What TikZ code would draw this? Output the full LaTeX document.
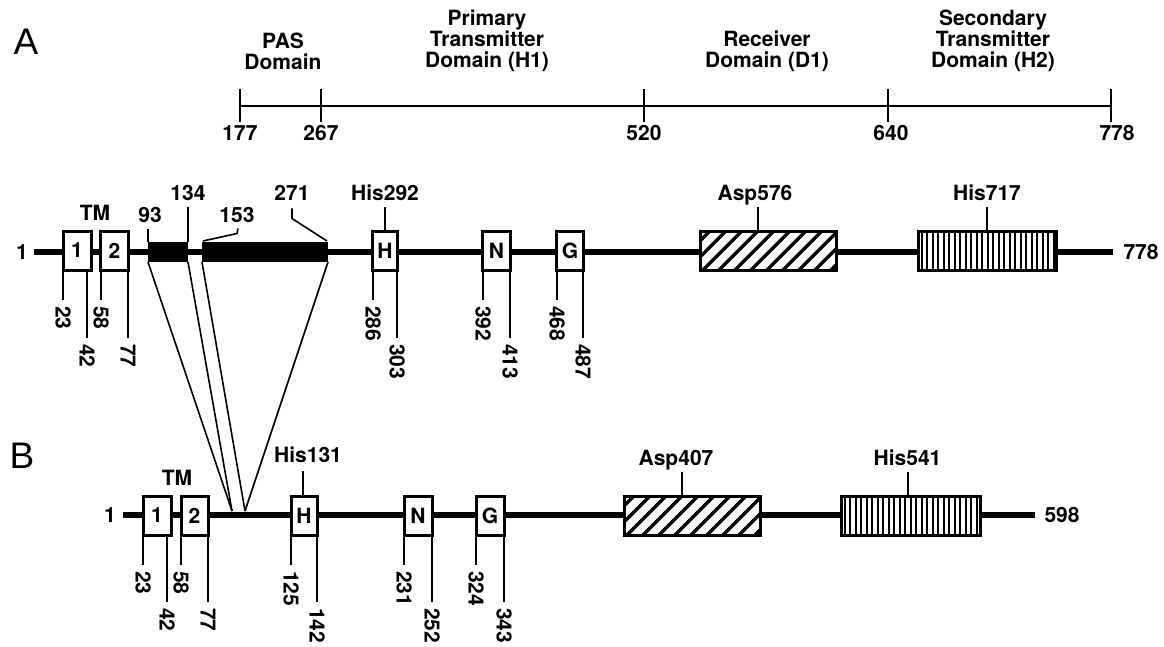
\documentclass[tikz,border=0pt]{standalone}
\usepackage{fontspec}
\setmainfont{TeX Gyre Heros}
\newfontfamily\panelfont{Liberation Sans}
\usetikzlibrary{calc}
\begin{document}
\begin{tikzpicture}[x=1pt,y=-1pt,
  lbl/.style={font=\bfseries\fontsize{21}{21}\selectfont, inner sep=0pt, outer sep=0pt, align=center},
  one/.style={lbl, text height=15pt, text depth=0pt},
  num/.style={one, rotate=-90, anchor=west},
  panel/.style={font=\panelfont\fontsize{37}{40}\selectfont, inner sep=0pt},
  prot/.style={line width=5.5pt},
  tick/.style={line width=1.6pt},
  scaleln/.style={line width=2pt},
  sbox/.style={draw, line width=3pt, fill=white, inner sep=0pt, outer sep=0pt, minimum height=39pt, font=\bfseries\fontsize{21}{21}\selectfont},
  blk/.style={fill=black, inner sep=0pt, outer sep=0pt, minimum height=20pt},
  conn/.style={line width=1.6pt},
  hatch/.style={line width=3.5pt},
  vline/.style={line width=2pt},
  frame/.style={line width=3pt},
]
\useasboundingbox[fill=white] (0,0) rectangle (1164,647);

% panel letters
\node[panel] (pA) at (26,42) {A};
\node[panel] (pB) at (22,456) {B};

% domain scale
\coordinate (s177) at (240,106);
\coordinate (s267) at (321,106);
\coordinate (s520) at (644,106);
\coordinate (s640) at (888,106);
\coordinate (s778) at (1111,106);
\draw[scaleln] (s177) -- (s778);
\foreach \n in {177,267,520,640,778}{
  \draw[scaleln] ($(s\n)+(0,-17)$) -- ($(s\n)+(0,16)$);
}
\node[one] (v177) at (240,133) {177};
\node[one] (v267) at (321,133) {267};
\node[one] (v520) at (644,133) {520};
\node[one] (v640) at (891,133) {640};
\node[one] (v778) at (1117,133) {778};
\node[lbl] (dPAS) at (283,51) {PAS\\Domain};
\node[lbl] (dH1) at (487,41) {Primary\\Transmitter\\Domain (H1)};
\node[lbl] (dD1) at (767,51) {Receiver\\Domain (D1)};
\node[lbl] (dH2) at (993,41) {Secondary\\Transmitter\\Domain (H2)};

% ---------------- protein A ----------------
\node[one] (oneA) at (22,252) {1};
\node[one] (endA) at (1141,252) {778};
\draw[prot] ($(oneA.east)+(6,0)$) -- ($(endA.west)+(-11,0)$);

\node[blk, minimum width=40pt] (k1) at (168,252) {};
\node[blk, minimum width=126pt] (k2) at (265,252) {};

\node[sbox, minimum width=28pt] (tm1A) at (77,250.5) {1};
\node[sbox, minimum width=28pt] (tm2A) at (114.5,250.5) {2};
\node[sbox, minimum width=25pt] (hA) at (385,250.5) {H};
\node[sbox, minimum width=28pt] (nA) at (496.5,250.5) {N};
\node[sbox, minimum width=27pt] (gA) at (570,250.5) {G};
\node[sbox, minimum width=136pt] (aspA) at (768.5,250.5) {};
\node[sbox, minimum width=138pt] (h2A) at (987.5,250.5) {};

\begin{scope}
  \clip (aspA.south west) rectangle (aspA.north east);
  \foreach \k in {0,...,11} \draw[hatch] (665+\k*16,276) -- (715+\k*16,226);
\end{scope}
\draw[frame] (aspA.south west) rectangle (aspA.north east);
\begin{scope}
  \clip (h2A.south west) rectangle (h2A.north east);
  \foreach \k in {0,...,24} \draw[vline] (921.5+\k*5.5,226) -- (921.5+\k*5.5,276);
\end{scope}
\draw[frame] (h2A.south west) rectangle (h2A.north east);

\node[one] (tmA) at (95,213) {TM};
\node[one] (l93) at (150,215) {93};
\node[one] (l134) at (188,193) {134};
\node[one] (l153) at (237,215) {153};
\node[one] (l271) at (292,193) {271};
\draw[tick] (k1.north west) -- ($(k1.north west |- l93.south)+(0,6)$);
\draw[tick] (k1.north east) -- ($(k1.north east |- l134.south)+(0,7)$);
\draw[tick] ($(l153.south)+(1,6)$) -- ++(-1,5) -- ($(k2.north west)+(1,-1)$);
\draw[tick] ($(l271.south)+(0,8)$) -- ++(0,10) -- ($(k2.north east)+(-1,-1)$);

\node[one] (lHisA) at (385,193) {His292};
\draw[tick] ($(lHisA.south)+(0,7)$) -- (hA.north);
\node[one] (lAspA) at (755,193) {Asp576};
\coordinate (tAspA) at ($(lAspA.south)+(3,7)$);
\draw[tick] (tAspA) -- (tAspA |- aspA.north);
\node[one] (lH2A) at (987,193) {His717};
\coordinate (tH2A) at ($(lH2A.south)+(0,7)$);
\draw[tick] (tH2A) -- (tH2A |- h2A.north);

\foreach \x/\ye/\t in {63/300/23, 87/338/42, 101/300/58, 128/338/77, 373/300/286, 397/338/303, 483/300/392, 510/338/413, 557/300/468, 583/338/487}{
  \node[num] (bA\t) at (\x,\ye+6) {\t};
  \draw[tick] (\x,270) -- ($(bA\t.west)+(0,-6)$);
}

% ---------------- protein B ----------------
\node[one] (oneB) at (110,515) {1};
\node[one] (endB) at (1062,515) {598};
\draw[prot] ($(oneB.east)+(7,0)$) -- ($(endB.west)+(-10,0)$);

\coordinate (j1) at (232,511);
\coordinate (j2) at (245,511);
\draw[conn] (k1.south west) -- (j1);
\draw[conn] (k1.south east) -- (j1);
\draw[conn] (k2.south west) -- (j2);
\draw[conn] (k2.south east) -- (j2);

\node[sbox, minimum width=28pt] (tm1B) at (157,515.5) {1};
\node[sbox, minimum width=27pt] (tm2B) at (194.5,515.5) {2};
\node[sbox, minimum width=26pt] (hB) at (304,515.5) {H};
\node[sbox, minimum width=28pt] (nB) at (418,515.5) {N};
\node[sbox, minimum width=28pt] (gB) at (490,515.5) {G};
\node[sbox, minimum width=136pt] (aspB) at (692,515.5) {};
\node[sbox, minimum width=139pt] (h2B) at (911,515.5) {};

\begin{scope}
  \clip (aspB.south west) rectangle (aspB.north east);
  \foreach \k in {0,...,11} \draw[hatch] (589+\k*16,541) -- (639+\k*16,491);
\end{scope}
\draw[frame] (aspB.south west) rectangle (aspB.north east);
\begin{scope}
  \clip (h2B.south west) rectangle (h2B.north east);
  \foreach \k in {0,...,24} \draw[vline] (844.5+\k*5.5,491) -- (844.5+\k*5.5,541);
\end{scope}
\draw[frame] (h2B.south west) rectangle (h2B.north east);

\node[one] (tmB) at (177,478) {TM};
\node[one] (lHisB) at (308,455) {His131};
\coordinate (tHisB) at ($(lHisB.south)+(-5,8)$);
\draw[tick] (tHisB) -- (tHisB |- hB.north);
\node[one] (lAspB) at (676,458) {Asp407};
\coordinate (tAspB) at ($(lAspB.south)+(6,6)$);
\draw[tick] (tAspB) -- (tAspB |- aspB.north);
\node[one] (lH2B) at (907.5,458) {His541};
\coordinate (tH2B) at ($(lH2B.south)+(0.5,6)$);
\draw[tick] (tH2B) -- (tH2B |- h2B.north);

\foreach \x/\ye/\t in {143/565/23, 167/602/42, 181/565/58, 208/602/77, 291/565/125, 317/602/142, 404/565/231, 432/602/252, 476/565/324, 504/602/343}{
  \node[num] (bB\t) at (\x,\ye+6) {\t};
  \draw[tick] (\x,535) -- ($(bB\t.west)+(0,-6)$);
}
\end{tikzpicture}
\end{document}
